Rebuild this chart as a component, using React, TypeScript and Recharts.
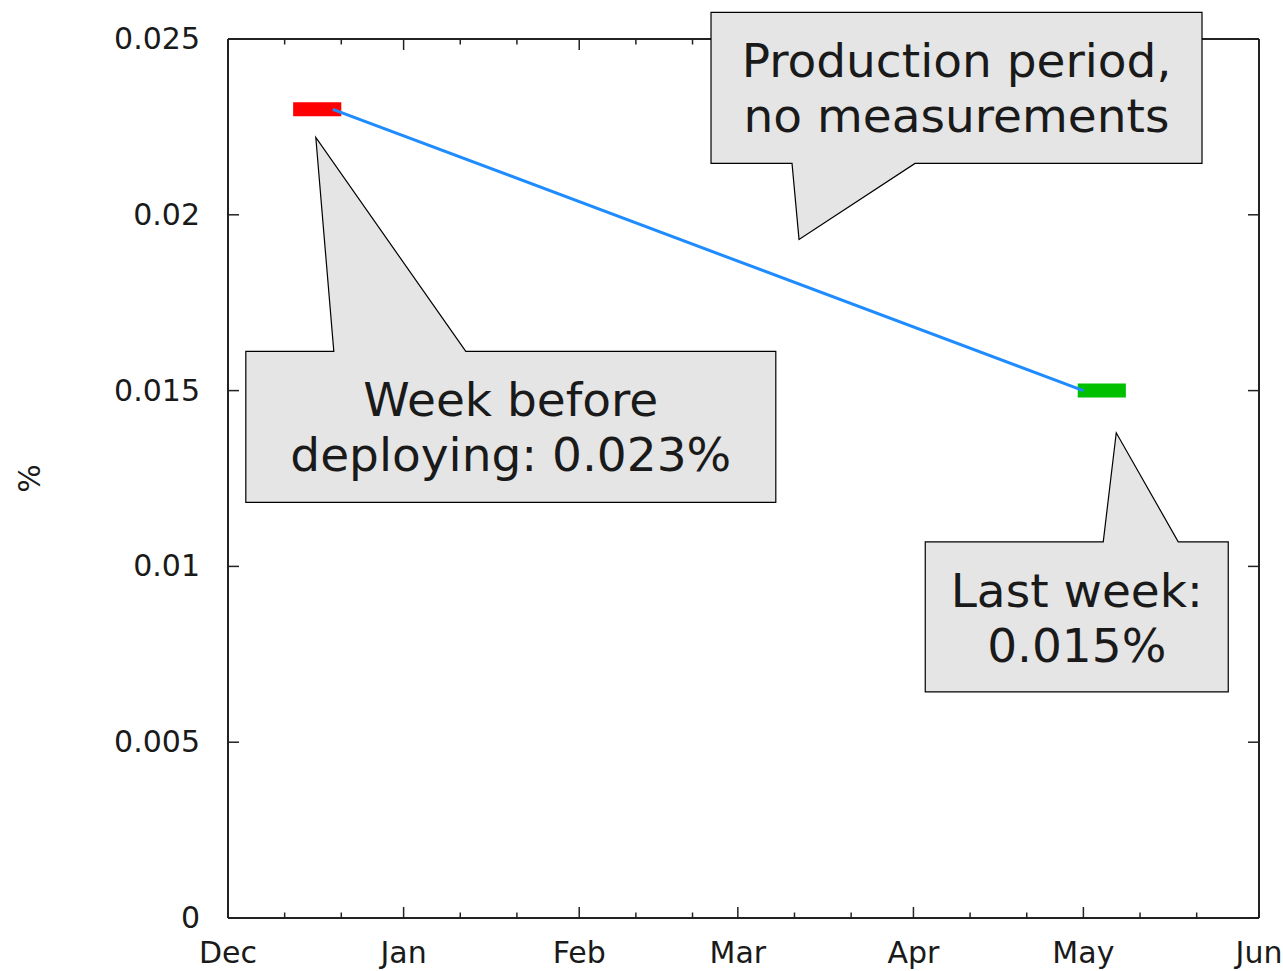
import React from 'react';
import { LineChart, Line, XAxis, YAxis, ReferenceDot } from 'recharts';

// ---- data ----
const monthLabels = ['Dec', 'Jan', 'Feb', 'Mar', 'Apr', 'May', 'Jun'];
const monthStartDays = [0, 31, 62, 90, 121, 151, 182]; // days since Dec 1
const minorTickDays = [10, 20, 41, 51, 72, 82, 100, 110, 131, 141, 161, 171];
const yTicks = [0, 0.005, 0.01, 0.015, 0.02, 0.025];
const yTickLabels = ['0', '0.005', '0.01', '0.015', '0.02', '0.025'];

const weekBeforeDeploy = [
  { day: 11.5, pct: 0.023 },
  { day: 20, pct: 0.023 },
];
const lastWeek = [
  { day: 150, pct: 0.015 },
  { day: 158.5, pct: 0.015 },
];
const productionLink = [
  { day: 18.5, pct: 0.023 },
  { day: 151, pct: 0.015 },
];

const calloutTexts = [
  ['Week before', 'deploying: 0.023%'],
  ['Last week:', '0.015%'],
  ['Production period,', 'no measurements'],
];
const calloutTipDays = [15.5, 156.8, 100.8];
const calloutTipValues = [0.0222, 0.0138, 0.0193];

// ---- layout / style ----
const FONT = 'DejaVu Sans, sans-serif';
const INK = '#1a1a1a';
const FRAME = '#222';
const W = 1283;
const H = 971;
const MARGIN = { top: 38, right: 23, bottom: 0, left: 0 };
const calloutLayout = [
  { left: -70, right: 460, top: 214, bottom: 365, baseL: 18, baseR: 150, side: 'top' },
  { left: -191, right: 112, top: 109, bottom: 259, baseL: -13, baseR: 62, side: 'top' },
  { left: -88, right: 403, top: -227, bottom: -76, baseL: -7, baseR: 116, side: 'bottom' },
];

const allXTicks = [...monthStartDays, ...minorTickDays].sort((a, b) => a - b);

const BottomTick = (props: any) => {
  const { x, y, payload } = props;
  const idx = monthStartDays.indexOf(payload.value);
  const major = idx >= 0;
  return (
    <g>
      <line x1={x} y1={y} x2={x} y2={y - (major ? 11 : 5.5)} stroke={FRAME} strokeWidth={1.5} />
      {major && (
        <text x={x} y={y + 45} textAnchor="middle" fontSize={30} fontFamily={FONT} fill={INK}>
          {monthLabels[idx]}
        </text>
      )}
    </g>
  );
};

const TopTick = (props: any) => {
  const { x, y, payload } = props;
  const major = monthStartDays.indexOf(payload.value) >= 0;
  return <line x1={x} y1={y} x2={x} y2={y + (major ? 11 : 5.5)} stroke={FRAME} strokeWidth={1.5} />;
};

const LeftTick = (props: any) => {
  const { x, y, payload } = props;
  const idx = yTicks.indexOf(payload.value);
  return (
    <g>
      <line x1={x} y1={y} x2={x + 11} y2={y} stroke={FRAME} strokeWidth={1.5} />
      <text x={x - 28} y={y + 10} textAnchor="end" fontSize={30} fontFamily={FONT} fill={INK}>
        {idx >= 0 ? yTickLabels[idx] : ''}
      </text>
    </g>
  );
};

const RightTick = (props: any) => {
  const { x, y } = props;
  return <line x1={x} y1={y} x2={x - 11} y2={y} stroke={FRAME} strokeWidth={1.5} />;
};

const Callout = (props: any) => {
  const { cx, cy, lines, layout } = props;
  if (cx == null || cy == null) return null;
  const L = cx + layout.left;
  const R = cx + layout.right;
  const T = cy + layout.top;
  const B = cy + layout.bottom;
  const bl = cx + layout.baseL;
  const br = cx + layout.baseR;
  const d =
    layout.side === 'top'
      ? `M${L},${T} L${bl},${T} L${cx},${cy} L${br},${T} L${R},${T} L${R},${B} L${L},${B} Z`
      : `M${L},${T} L${R},${T} L${R},${B} L${br},${B} L${cx},${cy} L${bl},${B} L${L},${B} Z`;
  const mx = (L + R) / 2;
  return (
    <g>
      <path d={d} fill="#e5e5e5" stroke="#000" strokeWidth={1.2} />
      {lines.map((t: string, i: number) => (
        <text key={i} x={mx} y={T + 65 + i * 55} textAnchor="middle" fontSize={47} fontFamily={FONT} fill={INK}>
          {t}
        </text>
      ))}
    </g>
  );
};

const layerStyle: React.CSSProperties = { position: 'absolute', left: 0, top: 0 };

export default function App() {
  return (
    <div style={{ position: 'absolute', left: 0, top: 0, width: W, height: H, fontFamily: FONT, background: '#fff' }}>
      {/* base layer: frame, ticks and series */}
      <div style={layerStyle}>
        <LineChart width={W} height={H} margin={MARGIN}>
          <XAxis
            xAxisId={0}
            type="number"
            dataKey="day"
            domain={[0, 182]}
            ticks={allXTicks}
            interval={0}
            height={53}
            tickSize={0}
            tickMargin={0}
            tickLine={false}
            axisLine={{ stroke: FRAME, strokeWidth: 2 }}
            tick={<BottomTick />}
          />
          <XAxis
            xAxisId="top"
            orientation="top"
            type="number"
            dataKey="day"
            domain={[0, 182]}
            ticks={allXTicks}
            interval={0}
            height={1}
            tickSize={0}
            tickMargin={0}
            tickLine={false}
            axisLine={{ stroke: FRAME, strokeWidth: 2 }}
            tick={<TopTick />}
          />
          <YAxis
            yAxisId={0}
            type="number"
            domain={[0, 0.025]}
            ticks={yTicks}
            interval={0}
            width={228}
            tickSize={0}
            tickMargin={0}
            tickLine={false}
            axisLine={{ stroke: FRAME, strokeWidth: 2 }}
            tick={<LeftTick />}
            label={{
              content: (p: any) => {
                const vb = p.viewBox || { x: 0, y: 39, width: 228, height: 879 };
                const lx = vb.x + 40;
                const ly = vb.y + vb.height / 2;
                return (
                  <text x={lx} y={ly} transform={`rotate(-90 ${lx} ${ly})`} textAnchor="middle" fontSize={30} fontFamily={FONT} fill={INK}>
                    %
                  </text>
                );
              },
            }}
          />
          <YAxis
            yAxisId="right"
            orientation="right"
            type="number"
            domain={[0, 0.025]}
            ticks={yTicks}
            interval={0}
            width={1}
            tickSize={0}
            tickMargin={0}
            tickLine={false}
            axisLine={{ stroke: FRAME, strokeWidth: 2 }}
            tick={<RightTick />}
          />
          <Line
            data={weekBeforeDeploy}
            dataKey="pct"
            type="linear"
            stroke="#ff0000"
            strokeWidth={14}
            strokeLinecap="butt"
            dot={false}
            activeDot={false}
            isAnimationActive={false}
          />
          <Line
            data={lastWeek}
            dataKey="pct"
            xAxisId="top"
            yAxisId="right"
            type="linear"
            stroke="#00c000"
            strokeWidth={14}
            strokeLinecap="butt"
            dot={false}
            activeDot={false}
            isAnimationActive={false}
          />
          <Line
            data={productionLink}
            dataKey="pct"
            type="linear"
            stroke="#1e8cff"
            strokeWidth={3}
            dot={false}
            activeDot={false}
            isAnimationActive={false}
          />
        </LineChart>
      </div>
      {/* overlay layer: callouts drawn above the frame */}
      <div style={layerStyle}>
        <LineChart width={W} height={H} margin={MARGIN}>
          <XAxis xAxisId={0} type="number" dataKey="day" domain={[0, 182]} height={53} tick={false} tickLine={false} axisLine={false} />
          <XAxis xAxisId="top" orientation="top" type="number" dataKey="day" domain={[0, 182]} height={1} tick={false} tickLine={false} axisLine={false} />
          <YAxis yAxisId={0} type="number" domain={[0, 0.025]} width={228} tick={false} tickLine={false} axisLine={false} />
          <YAxis yAxisId="right" orientation="right" type="number" domain={[0, 0.025]} width={1} tick={false} tickLine={false} axisLine={false} />
          <Line data={productionLink} dataKey="pct" stroke="transparent" strokeOpacity={0} dot={false} activeDot={false} isAnimationActive={false} />
          <Line data={lastWeek} dataKey="pct" xAxisId="top" yAxisId="right" stroke="transparent" strokeOpacity={0} dot={false} activeDot={false} isAnimationActive={false} />
          {calloutTexts.map((lines, i) => (
            <ReferenceDot
              key={i}
              x={calloutTipDays[i]}
              y={calloutTipValues[i]}
              r={0}
              shape={(p: any) => <Callout {...p} lines={lines} layout={calloutLayout[i]} />}
            />
          ))}
        </LineChart>
      </div>
    </div>
  );
}
